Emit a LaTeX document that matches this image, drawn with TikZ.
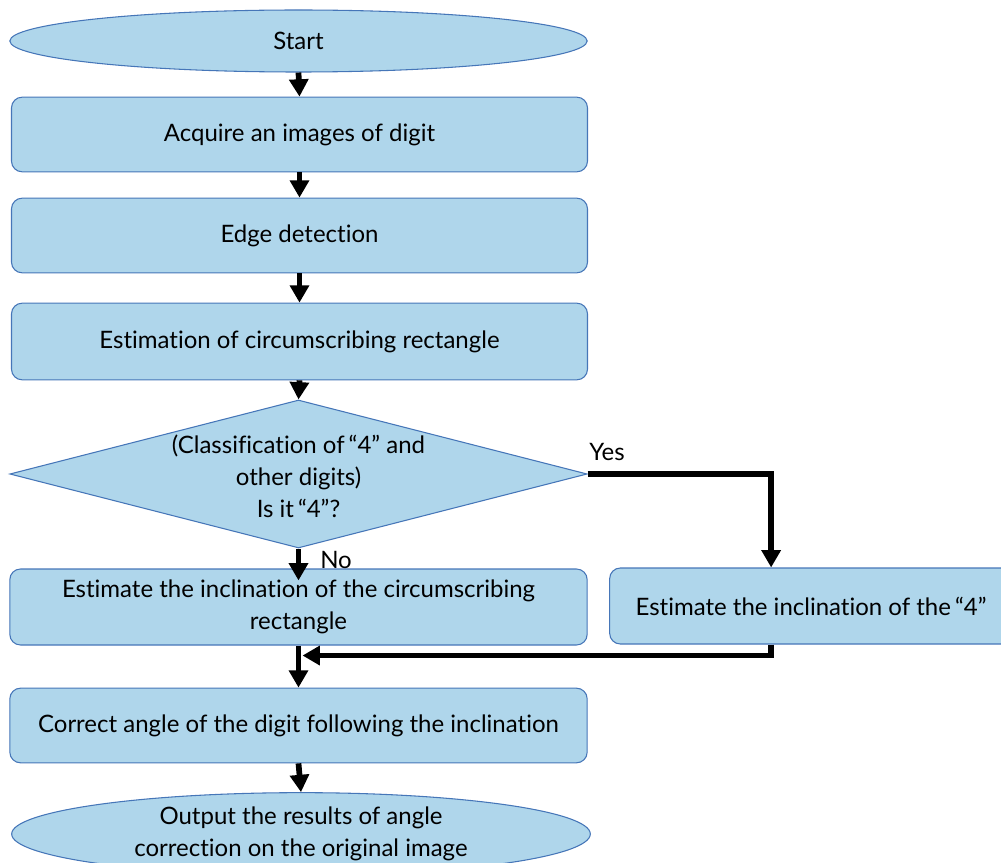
\documentclass[tikz,border=0pt]{standalone}
\usepackage{fontspec}
\setmainfont{Lato}[Ligatures={NoCommon}]
\usetikzlibrary{shapes.geometric,arrows.meta,calc}
\definecolor{boxfill}{HTML}{AFD6EB}
\definecolor{boxline}{HTML}{4676B8}
\begin{document}
\begin{tikzpicture}[x=0.75pt,y=-0.75pt,
  base/.style={draw=boxline,fill=boxfill,line width=0.8pt,align=center,font=\fontsize{18}{23.5}\selectfont,inner sep=2pt},
  procbox/.style={base,rectangle,rounded corners=8pt,minimum width=432pt,minimum height=56pt},
  term/.style={base,ellipse,inner sep=0pt},
  arr/.style={line width=4.3pt,-{Triangle[length=13pt,width=14pt]}},
  lbl/.style={font=\fontsize{18}{20}\selectfont,inner sep=0pt}]
\useasboundingbox (0,0) rectangle (1001,863);
\clip (0,0) rectangle (1001,863);
\node[term,minimum width=433pt,minimum height=46.5pt] (start) at (298.5,41) {Start};
\node[procbox] (b1) at (299.5,134.5) {Acquire an images of digit};
\node[procbox] (b2) at (299.5,235.5) {Edge detection};
\node[procbox,minimum height=57.5pt] (b3) at (299.5,341.5) {Estimation of circumscribing rectangle};
\node[base,diamond,minimum width=433pt,minimum height=111pt,inner sep=0pt] (d) at (298.5,474) {};
\node[align=center,font=\fontsize{18}{24}\selectfont] (dt) at (298.5,476) {(Classification of\,“4” and\\other digits)\\Is it\,“4”?};
\node[procbox,minimum width=433pt,minimum height=57pt] (b4) at (298.5,607) {Estimate the inclination of the circumscribing\\rectangle};
\node[procbox,minimum width=302pt,minimum height=57pt] (b5) at (811,606) {Estimate the inclination of the\,“4”};
\node[procbox,minimum width=433pt] (b6) at (298.5,725.5) {Correct angle of the digit following the inclination};
\node[term,minimum width=434pt,minimum height=62pt] (end) at (301,834) {Output the results of angle\\correction on the original image};
\node[lbl,anchor=south west] (yes) at (589,461) {Yes};
\node[lbl,anchor=south west] (no) at (320,569) {No};
\coordinate (m) at ($(b4.south)+(0,10)$);
\draw[arr] (start.south) -- (b1.north);
\draw[arr] (b1.south) -- (b2.north);
\draw[arr] (b2.south) -- (b3.north);
\draw[arr] (b3.south) -- (d.north);
\draw[arr] (d.south) -- ($(b4.north)+(0,12)$);
\draw[arr] (d.east) -| ([xshift=121.5pt]b5.north west);
\draw[arr] ([xshift=121.5pt]b5.south west) |- ([xshift=3pt]m);
\draw[arr] (b4.south) -- (b6.north);
\draw[arr] (b6.south) -- (end.north);
\end{tikzpicture}
\end{document}
